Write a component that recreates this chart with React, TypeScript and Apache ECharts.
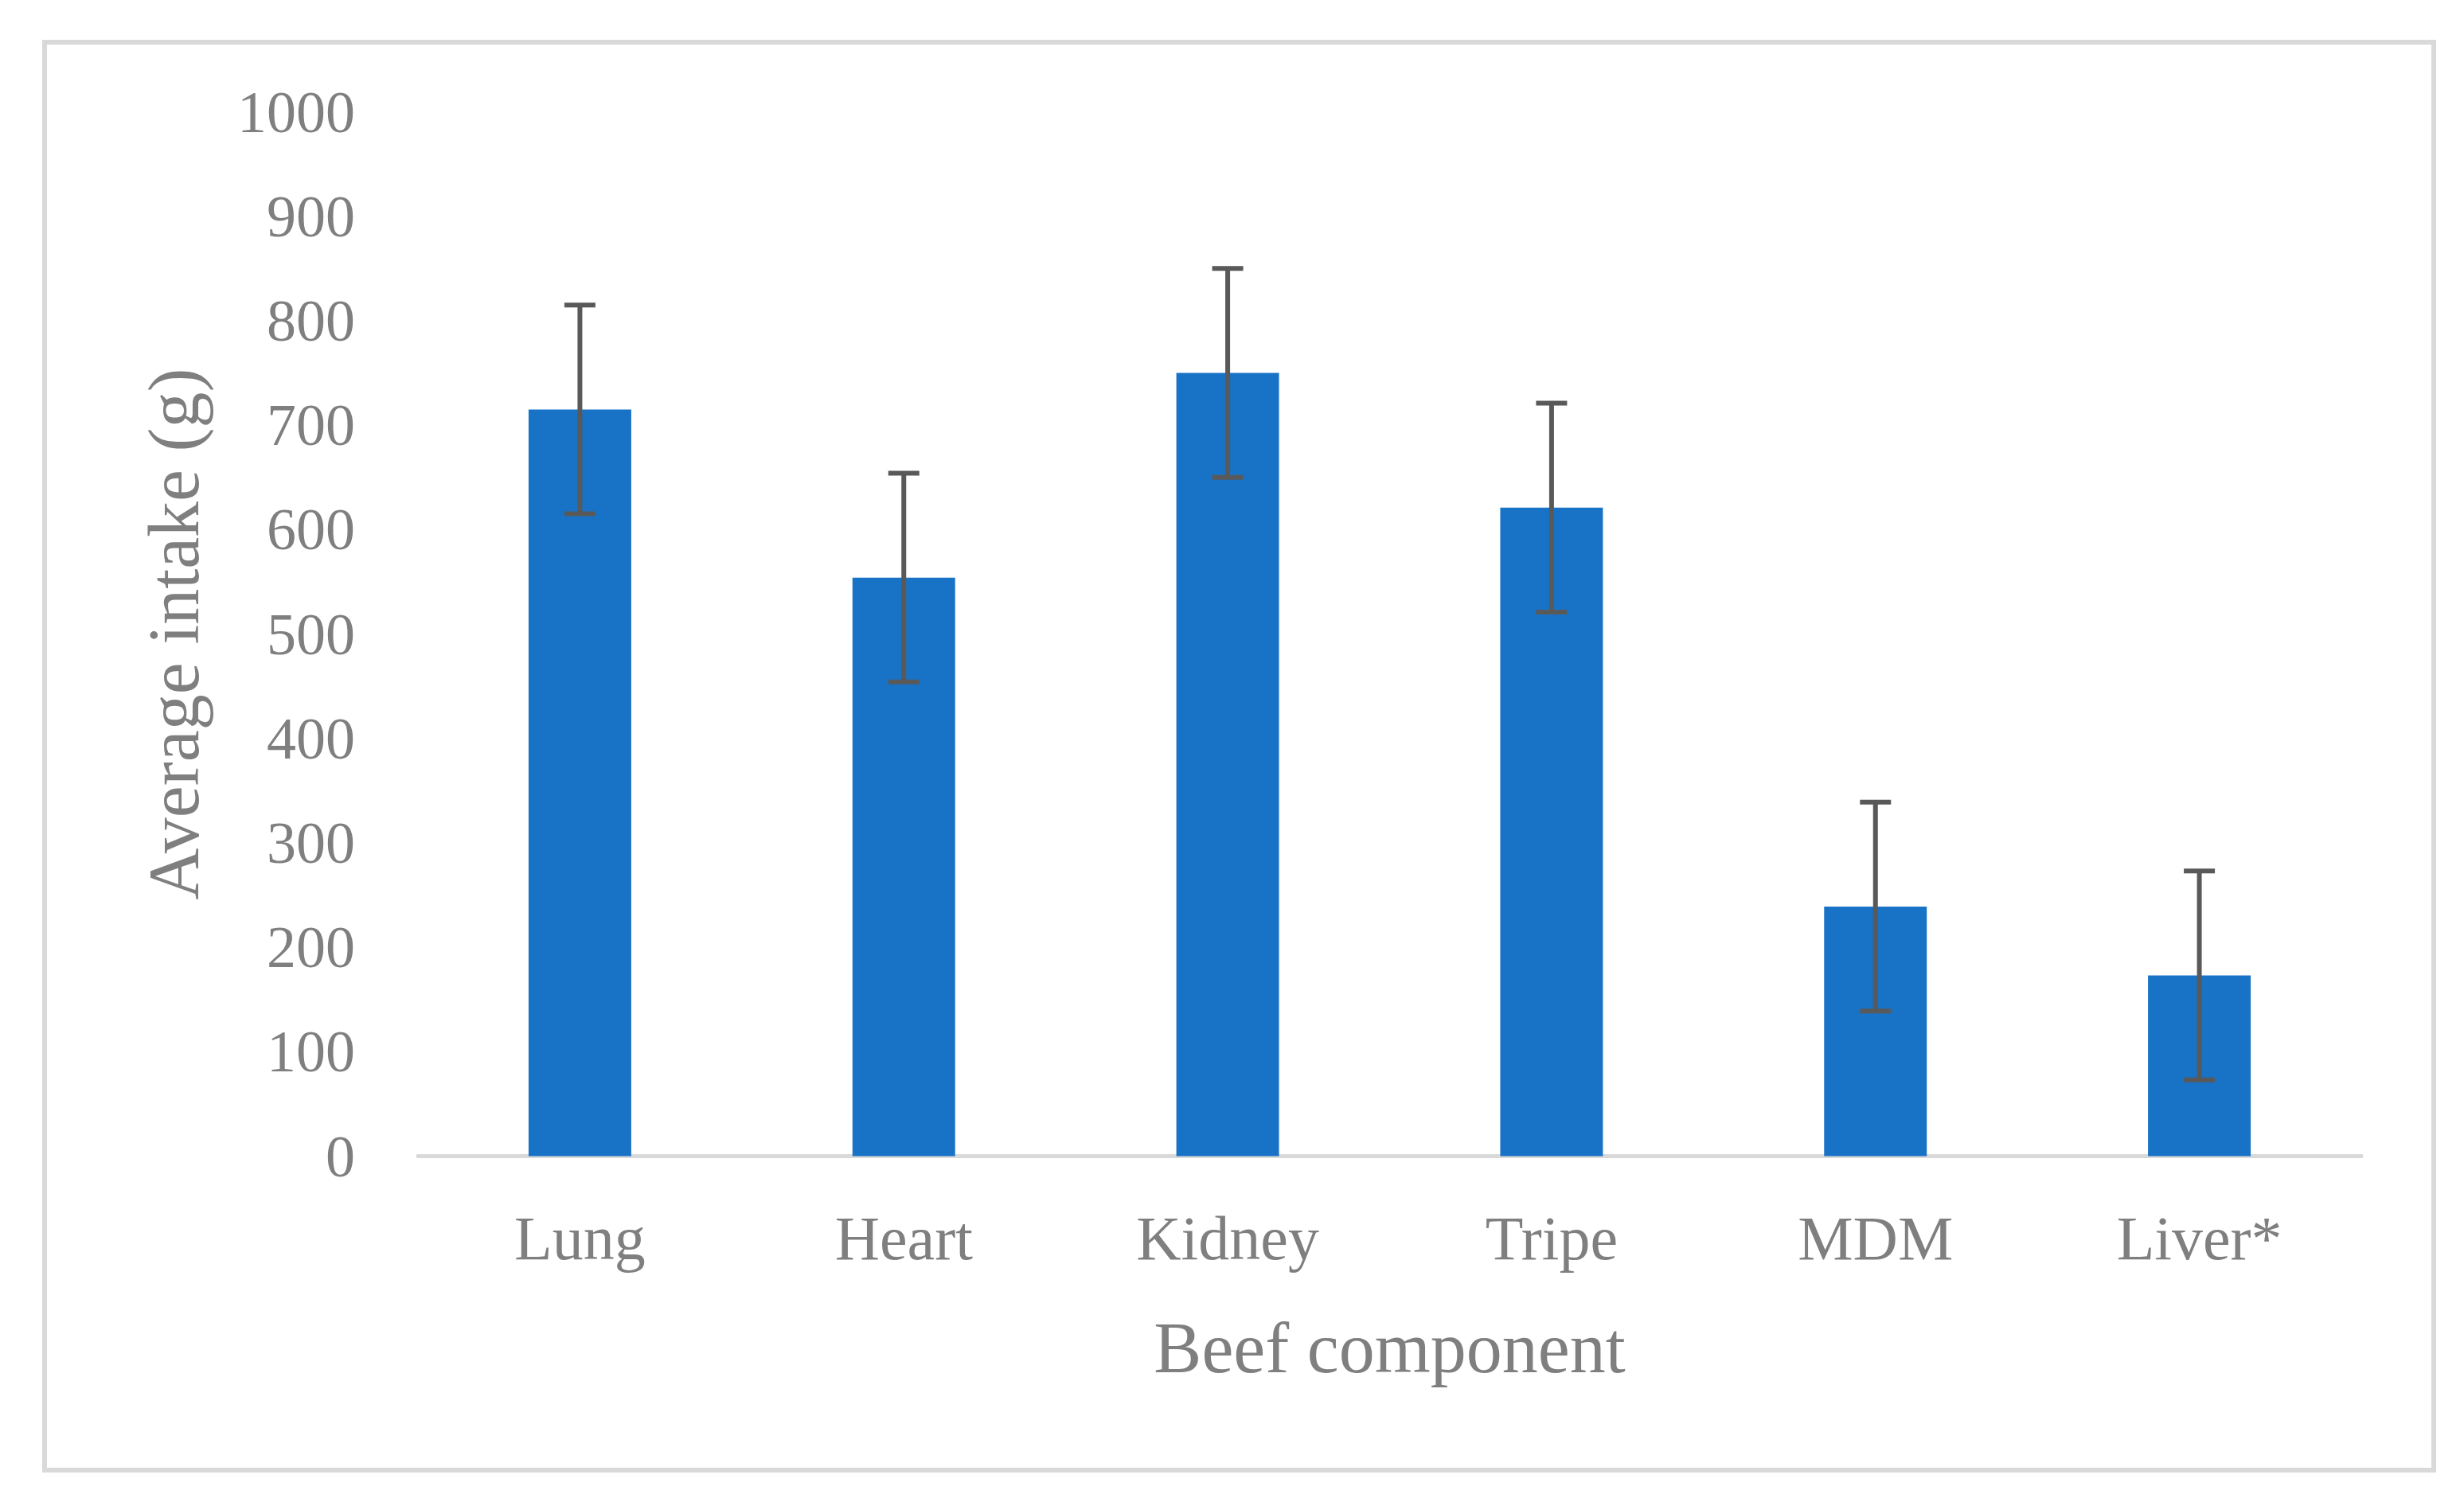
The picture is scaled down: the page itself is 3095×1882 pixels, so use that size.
import React, { useEffect, useRef } from "react";
import * as echarts from "echarts";

const categories = ["Lung", "Heart", "Kidney", "Tripe", "MDM", "Liver*"];
const intake = [715, 554, 750, 621, 239, 173];
const errorSD = [100, 100, 100, 100, 100, 100];

const xTitle = "Beef component";
const yTitle = "Average intake (g)";

const FONT = "'Liberation Serif', 'Times New Roman', serif";
const TEXT = "#7f7f7f";

export default function App() {
  const ref = useRef<HTMLDivElement>(null);
  useEffect(() => {
    if (!ref.current) return;
    const chart = echarts.init(ref.current, null, { renderer: "svg" });
    const errData = intake.map((v, i) => [i, v - errorSD[i], v + errorSD[i]]);
    chart.setOption({
      animation: false,
      backgroundColor: "#ffffff",
      textStyle: { fontFamily: FONT },
      graphic: [
        {
          type: "rect",
          shape: { x: 56, y: 53, width: 3001, height: 1794 },
          style: { fill: "none", stroke: "#d9d9d9", lineWidth: 6 },
          silent: true,
        },
      ],
      grid: {
        left: 525,
        right: 129,
        top: 140.5,
        bottom: 429.5,
        containLabel: false,
        outerBoundsMode: "none",
      },
      xAxis: {
        type: "category",
        data: categories,
        name: xTitle,
        nameLocation: "middle",
        nameGap: 196,
        nameTextStyle: { color: TEXT, fontSize: 90, fontFamily: FONT },
        axisLine: { show: true, lineStyle: { color: "#d9d9d9", width: 5 } },
        axisTick: { show: false },
        axisLabel: { color: TEXT, fontSize: 78, fontFamily: FONT, margin: 64 },
        splitLine: { show: false },
      },
      yAxis: {
        type: "value",
        min: 0,
        max: 1000,
        interval: 100,
        name: yTitle,
        nameLocation: "middle",
        nameGap: 262,
        nameTextStyle: { color: TEXT, fontSize: 90, fontFamily: FONT },
        axisLine: { show: false },
        axisTick: { show: false },
        axisLabel: {
          color: TEXT,
          fontSize: 74,
          fontFamily: FONT,
          margin: 79,
          formatter: (v: number) => String(v),
        },
        splitLine: { show: false },
      },
      series: [
        {
          type: "bar",
          data: intake,
          barWidth: "31.7%",
          itemStyle: { color: "#1873c7" },
          silent: true,
        },
        {
          type: "custom",
          data: errData,
          encode: { x: 0, y: [1, 2] },
          z: 10,
          silent: true,
          renderItem: (params: any, api: any) => {
            const i = api.value(0);
            const lo = api.coord([i, api.value(1)]);
            const hi = api.coord([i, api.value(2)]);
            const half = 19.5;
            const style = { stroke: "#595959", lineWidth: 6 };
            return {
              type: "group",
              children: [
                { type: "line", shape: { x1: hi[0], y1: hi[1], x2: lo[0], y2: lo[1] }, style },
                { type: "line", shape: { x1: hi[0] - half, y1: hi[1], x2: hi[0] + half, y2: hi[1] }, style },
                { type: "line", shape: { x1: lo[0] - half, y1: lo[1], x2: lo[0] + half, y2: lo[1] }, style },
              ],
            };
          },
        },
      ],
    });
    return () => chart.dispose();
  }, []);
  return (
    <div
      ref={ref}
      style={{ position: "fixed", left: 0, top: 0, width: 3095, height: 1882, background: "#fff" }}
    />
  );
}
